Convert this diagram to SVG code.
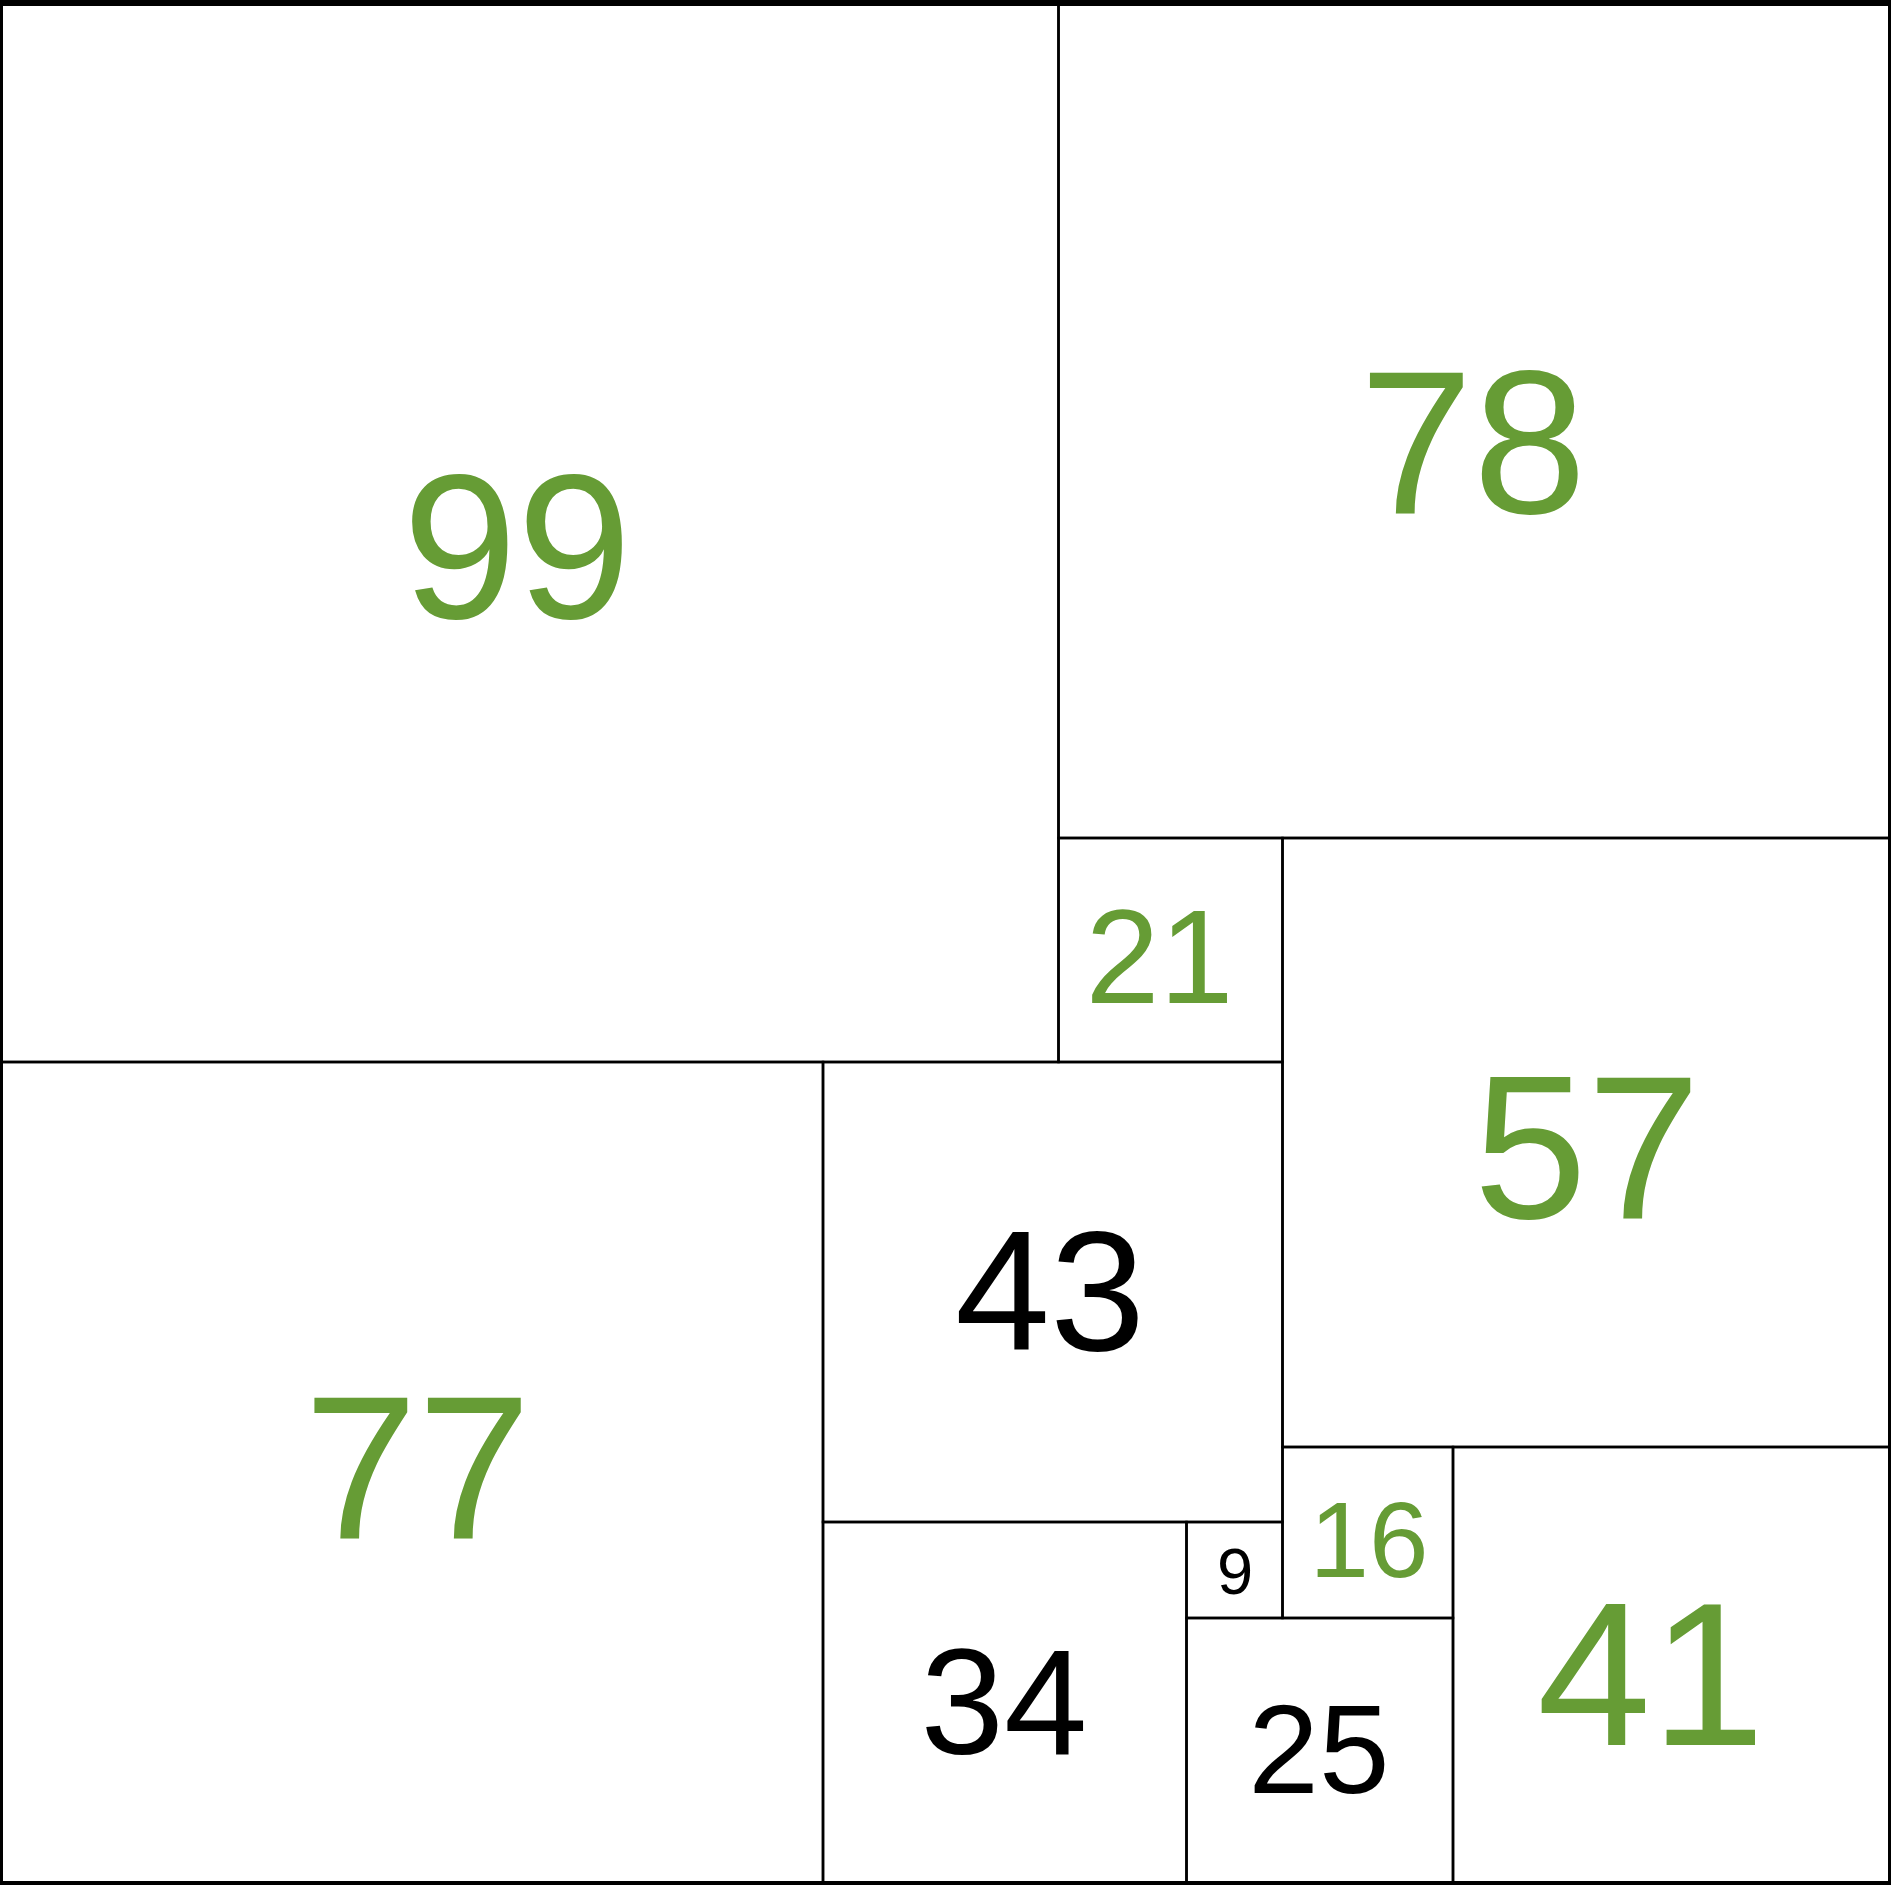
<svg xmlns="http://www.w3.org/2000/svg" width="1891" height="1885" viewBox="0 0 1891 1885">
<style>
.sq{fill:none;stroke:#000;stroke-width:2.5}
.t{font-family:"Liberation Sans",Arial,sans-serif;text-anchor:middle}
.g{fill:#669C35}
.k{fill:#000}
</style>
<rect x="0" y="0" width="1891" height="1885" fill="#fff"/>
<g id="sq99"><rect class="sq" x="1.5" y="3" width="1057" height="1059"/><text class="t g" x="517" y="618" font-size="206">99</text></g>
<g id="sq78"><rect class="sq" x="1058.5" y="3" width="831" height="835"/><text class="t g" x="1473" y="513" font-size="204">78</text></g>
<g id="sq21"><rect class="sq" x="1058.5" y="838" width="224" height="224"/><text class="t g" x="1159.5" y="1003" font-size="133">21</text></g>
<g id="sq57"><rect class="sq" x="1282.5" y="838" width="607" height="609"/><text class="t g" x="1587" y="1218" font-size="204">57</text></g>
<g id="sq77"><rect class="sq" x="1.5" y="1062" width="821.5" height="821"/><text class="t g" x="417.5" y="1538" font-size="204">77</text></g>
<g id="sq43"><rect class="sq" x="823" y="1062" width="459.5" height="460"/><text class="t k" x="1050" y="1350" font-size="171">43</text></g>
<g id="sq34"><rect class="sq" x="823" y="1522" width="363.5" height="361"/><text class="t k" x="1004" y="1754" font-size="150">34</text></g>
<g id="sq9"><rect class="sq" x="1186.5" y="1522" width="96" height="96"/><text class="t k" x="1235" y="1594" font-size="65">9</text></g>
<g id="sq16"><rect class="sq" x="1282.5" y="1447" width="170.5" height="171"/><text class="t g" x="1369" y="1577" font-size="107">16</text></g>
<g id="sq25"><rect class="sq" x="1186.5" y="1618" width="266.5" height="265"/><text class="t k" x="1319" y="1793" font-size="127">25</text></g>
<g id="sq41"><rect class="sq" x="1453" y="1447" width="436.5" height="436"/><text class="t g" x="1651" y="1745" font-size="205">41</text></g>
<g id="connectors"></g>
<g id="frame"><rect x="0" y="0" width="1891" height="6" fill="#000"/><rect x="0" y="1881" width="1891" height="4" fill="#000"/><rect x="0" y="0" width="3" height="1885" fill="#000"/><rect x="1888" y="0" width="3" height="1885" fill="#000"/></g>
</svg>
